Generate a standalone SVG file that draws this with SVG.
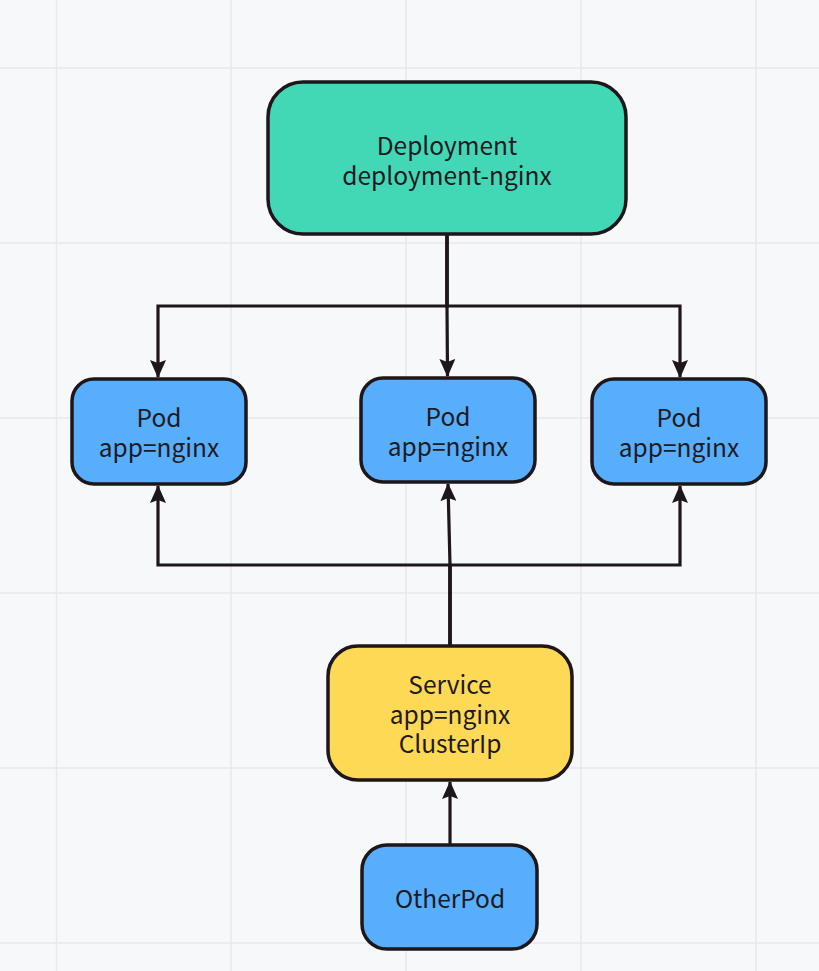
<svg xmlns="http://www.w3.org/2000/svg" width="819" height="971" viewBox="0 0 819 971">
<defs>
<style>
.bg{fill:#f7f8fa}
.grid line{stroke:#e8e9ec;stroke-width:1.5}
.box{stroke:#1d161a;stroke-width:3.5}
.dep{fill:#42d8b6}
.pod{fill:#57aefc}
.svc{fill:#fed955}
.lbl{font-family:"Noto Sans CJK SC","Source Sans Pro","Liberation Sans",sans-serif;font-size:24.5px;fill:#1f1a1f;text-anchor:middle;dominant-baseline:central}
.edge{fill:none;stroke:#1d161a;stroke-width:3.2}
</style>
<marker id="arr" viewBox="0 0 18 16" refX="17" refY="8" markerWidth="18" markerHeight="16" markerUnits="userSpaceOnUse" orient="auto">
<path d="M0,0 L18,8 L0,16 L3,8 Z" fill="#1d161a"/>
</marker>
</defs>
<rect class="bg" x="0" y="0" width="819" height="971"/>
<g class="grid">
<line x1="56.5" y1="0" x2="56.5" y2="971"/>
<line x1="231" y1="0" x2="231" y2="971"/>
<line x1="406" y1="0" x2="406" y2="971"/>
<line x1="581" y1="0" x2="581" y2="971"/>
<line x1="756" y1="0" x2="756" y2="971"/>
<line x1="0" y1="68" x2="819" y2="68"/>
<line x1="0" y1="243" x2="819" y2="243"/>
<line x1="0" y1="418" x2="819" y2="418"/>
<line x1="0" y1="593" x2="819" y2="593"/>
<line x1="0" y1="768" x2="819" y2="768"/>
<line x1="0" y1="943" x2="819" y2="943"/>
</g>
<g id="connectors">
<polyline class="edge" points="447,235 447,306 158,306 158,377" marker-end="url(#arr)"/>
<polyline class="edge" points="447,235 447,306 680,306 680,377" marker-end="url(#arr)"/>
<polyline class="edge" points="447,235 447,306 447.5,376" marker-end="url(#arr)"/>
<polyline class="edge" points="450,645 450,565 158,565 158,486" marker-end="url(#arr)"/>
<polyline class="edge" points="450,645 450,565 680,565 680,486" marker-end="url(#arr)"/>
<polyline class="edge" points="450,645 450,565 448,484" marker-end="url(#arr)"/>
<polyline class="edge" points="450,845 450,782" marker-end="url(#arr)"/>
</g>
<g id="deployment">
<rect class="box dep" x="268" y="82" width="358" height="152" rx="35"/>
<text class="lbl" x="447" y="144">Deployment</text>
<text class="lbl" x="447" y="174">deployment-nginx</text>
</g>
<g id="pod1">
<rect class="box pod" x="72" y="379" width="174" height="105" rx="22"/>
<text class="lbl" x="159" y="416">Pod</text>
<text class="lbl" x="159" y="446">app=nginx</text>
</g>
<g id="pod2">
<rect class="box pod" x="361" y="378" width="174" height="104" rx="22"/>
<text class="lbl" x="448" y="415">Pod</text>
<text class="lbl" x="448" y="445">app=nginx</text>
</g>
<g id="pod3">
<rect class="box pod" x="592" y="379" width="174" height="105" rx="22"/>
<text class="lbl" x="679" y="416">Pod</text>
<text class="lbl" x="679" y="446">app=nginx</text>
</g>
<g id="service">
<rect class="box svc" x="328" y="646" width="244" height="134" rx="30"/>
<text class="lbl" x="450" y="683">Service</text>
<text class="lbl" x="450" y="713">app=nginx</text>
<text class="lbl" x="450" y="742">ClusterIp</text>
</g>
<g id="otherpod">
<rect class="box pod" x="362" y="845" width="175" height="104" rx="25"/>
<text class="lbl" x="450" y="897">OtherPod</text>
</g>
</svg>
